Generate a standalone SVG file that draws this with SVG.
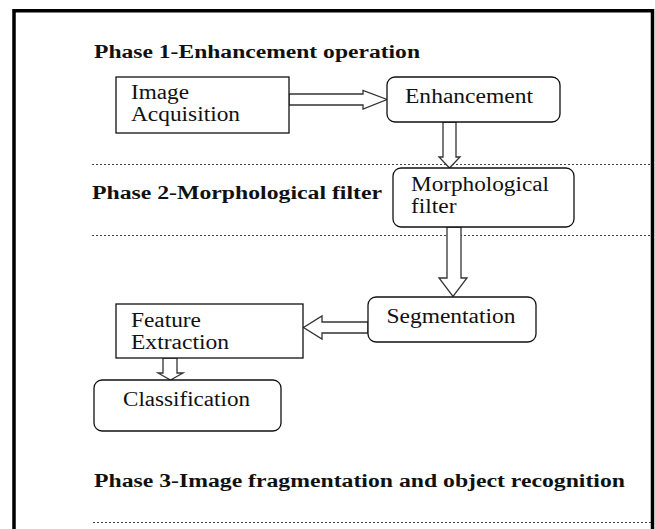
<svg xmlns="http://www.w3.org/2000/svg" width="655" height="529" viewBox="0 0 655 529">
<style>
.frame{fill:none;stroke:#000;stroke-width:3.5}
.dot{fill:none;stroke:#444;stroke-width:1;stroke-dasharray:2 2}
.box{fill:#fff;stroke:#111;stroke-width:1.3}
.arr{fill:#fff;stroke:#333;stroke-width:1.3;stroke-linejoin:miter}
text{font-family:"Liberation Serif",serif;fill:#111}
.t{font-size:20px}
.h{font-size:18.5px;font-weight:bold}
</style>
<rect width="655" height="529" fill="#fff"/>
<path class="frame" d="M14,529 V10.75 H652.5 V529"/>
<g id="dividers">
<line class="dot" x1="92" y1="164.5" x2="651" y2="164.5"/>
<line class="dot" x1="92" y1="235.5" x2="651" y2="235.5"/>
<line class="dot" x1="93" y1="522.5" x2="651" y2="522.5"/>
</g>
<g id="phase-titles">
<text class="h" x="94" y="58" textLength="326" lengthAdjust="spacingAndGlyphs">Phase 1-Enhancement operation</text>
<text class="h" x="92" y="199" textLength="290" lengthAdjust="spacingAndGlyphs">Phase 2-Morphological filter</text>
<text class="h" x="94" y="487" textLength="531" lengthAdjust="spacingAndGlyphs">Phase 3-Image fragmentation and object recognition</text>
</g>
<g id="connectors">
<path class="arr" d="M289,94 H363 V90.5 L387,99.5 L363,109 V105 H289 Z"/>
<path class="arr" d="M443,122 V157 H439 L449.5,168 L460,157 H456 V122 Z"/>
<path class="arr" d="M447,227 V278 H439 L453,296.5 L467,278 H461 V227 Z"/>
<path class="arr" d="M368,322 H322 V316 L303.5,327.5 L322,339 V333 H368 Z"/>
<path class="arr" d="M163,358 V373 H158 L170.5,380 L183,373 H177 V358 Z"/>
</g>
<g id="image-acquisition">
<rect class="box" x="116" y="77" width="173" height="56"/>
<text class="t" x="131" y="99" textLength="58" lengthAdjust="spacingAndGlyphs">Image</text>
<text class="t" x="131" y="121" textLength="109" lengthAdjust="spacingAndGlyphs">Acquisition</text>
</g>
<g id="enhancement">
<rect class="box" x="387" y="77" width="173" height="45" rx="8"/>
<text class="t" x="405" y="102.5" textLength="128" lengthAdjust="spacingAndGlyphs">Enhancement</text>
</g>
<g id="morphological-filter">
<rect class="box" x="393" y="168" width="181" height="59" rx="8"/>
<text class="t" x="411" y="191" textLength="138" lengthAdjust="spacingAndGlyphs">Morphological</text>
<text class="t" x="411" y="213" textLength="45.5" lengthAdjust="spacingAndGlyphs">filter</text>
</g>
<g id="segmentation">
<rect class="box" x="368" y="297" width="168" height="45" rx="8"/>
<text class="t" x="386.5" y="322.5" textLength="129" lengthAdjust="spacingAndGlyphs">Segmentation</text>
</g>
<g id="feature-extraction">
<rect class="box" x="116" y="304" width="187" height="54"/>
<text class="t" x="131" y="327" textLength="70" lengthAdjust="spacingAndGlyphs">Feature</text>
<text class="t" x="131" y="349" textLength="98" lengthAdjust="spacingAndGlyphs">Extraction</text>
</g>
<g id="classification">
<rect class="box" x="94" y="380" width="187" height="51" rx="8"/>
<text class="t" x="123" y="406" textLength="127" lengthAdjust="spacingAndGlyphs">Classification</text>
</g>
</svg>
